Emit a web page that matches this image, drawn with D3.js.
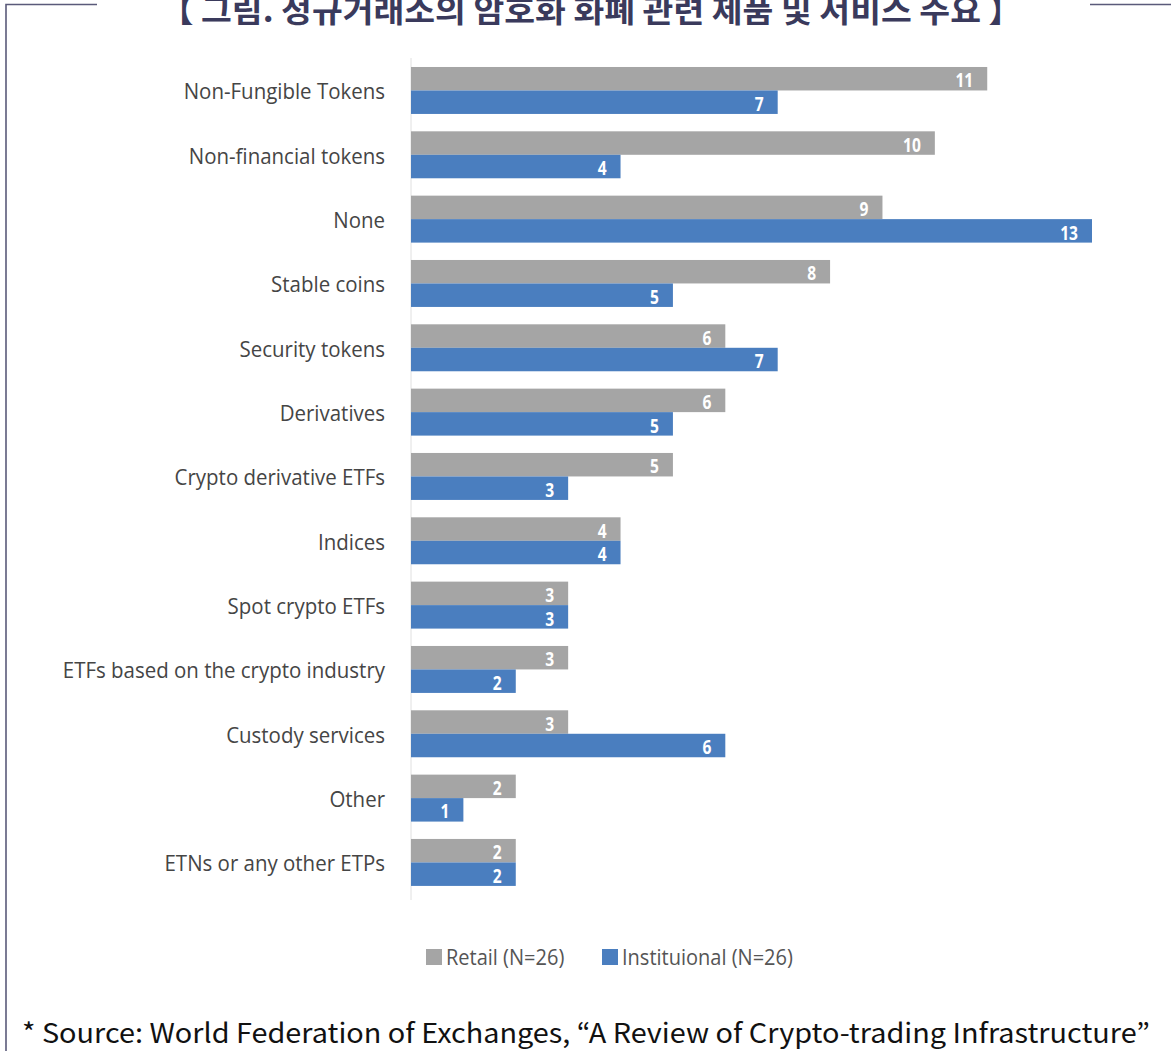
<!DOCTYPE html>
<html>
<head>
<meta charset="utf-8">
<script src="https://cdn.jsdelivr.net/npm/d3@7"></script>
<style>
  html, body { margin: 0; padding: 0; background: #fff; }
  svg { display: block; }
</style>
</head>
<body>
<svg id="chart" width="1171" height="1051"></svg>
<script>
// Products and services offered by exchanges (number of responding exchanges)
const categories = [
  "Non-Fungible Tokens",
  "Non-financial tokens",
  "None",
  "Stable coins",
  "Security tokens",
  "Derivatives",
  "Crypto derivative ETFs",
  "Indices",
  "Spot crypto ETFs",
  "ETFs based on the crypto industry",
  "Custody services",
  "Other",
  "ETNs or any other ETPs"
];
const retail =        [11, 10, 9, 8, 6, 6, 5, 4, 3, 3, 3, 2, 2];
const institutional = [7, 4, 13, 5, 7, 5, 3, 4, 3, 2, 6, 1, 2];
const seriesNames = ["Retail (N=26)", "Instituional (N=26)"];
const seriesColors = ["#a5a5a5", "#4a7ebf"];

const titleText = "【 그림. 정규거래소의 암호화 화폐 관련 제품 및 서비스 주요 】";
const sourceText = "* Source: World Federation of Exchanges, “A Review of Crypto-trading Infrastructure”";

const svg = d3.select("#chart");

// Frame lines around the figure
const frame = svg.append("g").attr("stroke", "#5a5a7a").attr("stroke-width", 1.6).attr("fill", "none");
frame.append("path").attr("d", "M97,4.5 H6 V1051");
frame.append("path").attr("d", "M1090,4.5 H1171");

// Title
svg.append("text")
  .attr("x", 160).attr("y", 22)
  .attr("textLength", 862).attr("lengthAdjust", "spacingAndGlyphs")
  .attr("font-family", "'Noto Sans CJK KR', sans-serif")
  .attr("font-weight", 700)
  .attr("font-size", 32)
  .attr("fill", "#3a3a5c")
  .text(titleText);

// Scales
const x = d3.scaleLinear().domain([0, 13]).range([411, 1092]);
const y = d3.scaleBand().domain(categories).range([58.3, 894.6]).paddingInner(0.27).paddingOuter(0.135);
const ySub = d3.scaleBand().domain([0, 1]).range([0, y.bandwidth()]);

// Category axis line
svg.append("line")
  .attr("x1", x(0)).attr("x2", x(0))
  .attr("y1", 58).attr("y2", 900)
  .attr("stroke", "#e0e0e0").attr("stroke-width", 1);

const rows = categories.map((c, i) => ({ cat: c, vals: [retail[i], institutional[i]] }));

const groups = svg.append("g").selectAll("g")
  .data(rows).join("g")
  .attr("transform", d => `translate(0,${y(d.cat)})`);

groups.selectAll("rect")
  .data(d => d.vals.map((v, s) => ({ v, s })))
  .join("rect")
  .attr("x", x(0))
  .attr("y", d => ySub(d.s))
  .attr("width", d => x(d.v) - x(0))
  .attr("height", ySub.bandwidth())
  .attr("fill", d => seriesColors[d.s]);

// Value labels inside the bar ends
groups.selectAll("text.val")
  .data(d => d.vals.map((v, s) => ({ v, s })))
  .join("text")
  .attr("class", "val")
  .attr("transform", d => `translate(${x(d.v) - 14},${ySub(d.s) + ySub.bandwidth() / 2 + 1}) scale(0.82,1)`)
  .attr("text-anchor", "end")
  .attr("dominant-baseline", "central")
  .attr("font-family", "'Open Sans', sans-serif")
  .attr("font-weight", 700)
  .attr("font-size", 19)
  .attr("fill", "#ffffff")
  .text(d => d.v);

// Category labels
svg.append("g").selectAll("text")
  .data(categories).join("text")
  .attr("transform", d => `translate(385,${y(d) + y.bandwidth() / 2}) scale(0.93,1)`)
  .attr("text-anchor", "end")
  .attr("dominant-baseline", "central")
  .attr("font-family", "'Open Sans', sans-serif")
  .attr("font-size", 22)
  .attr("fill", "#454545")
  .text(d => d);

// Legend
const legendX = [426, 602];
const legend = svg.append("g").selectAll("g")
  .data(seriesNames).join("g")
  .attr("transform", (d, i) => `translate(${legendX[i]},949)`);
legend.append("rect").attr("width", 16).attr("height", 16).attr("fill", (d, i) => seriesColors[i]);
legend.append("text")
  .attr("transform", "translate(20,8) scale(0.91,1)")
  .attr("dominant-baseline", "central")
  .attr("font-family", "'Open Sans', sans-serif")
  .attr("font-size", 22)
  .attr("fill", "#555555")
  .text(d => d);

// Source note
svg.append("text")
  .attr("x", 22).attr("y", 1043)
  .attr("textLength", 1128).attr("lengthAdjust", "spacingAndGlyphs")
  .attr("font-family", "'Noto Sans CJK KR', sans-serif")
  .attr("font-size", 27)
  .attr("fill", "#111111")
  .text(sourceText);
</script>
</body>
</html>
